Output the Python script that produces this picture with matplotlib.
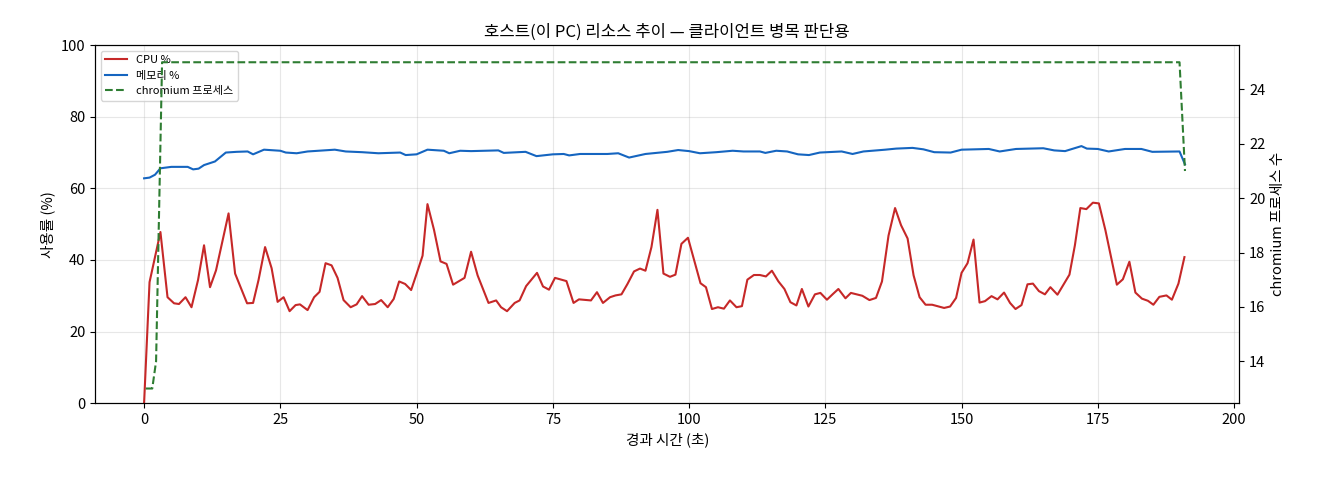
import matplotlib
matplotlib.use("Agg")
import matplotlib.pyplot as plt

plt.rcParams['font.family'] = ['Noto Sans CJK KR', 'DejaVu Sans']

cpu_t = [0, 1.0, 3.0, 4.3, 5.5, 6.4, 7.6, 8.7, 9.9, 11.0, 12.1, 13.2, 15.5, 16.7, 18.9, 20, 21, 22.2,
         23.4, 24.5, 25.6, 26.7, 27.8, 28.6, 30, 31.2, 32.2, 33.3, 34.4, 35.5, 36.6, 37.9, 39, 40,
         41.2, 42.4, 43.5, 44.7, 45.8, 46.8, 47.9, 49, 50, 51.1, 52, 53.2, 54.4, 55.5, 56.7, 58.8,
         60, 61.2, 63.2, 64.6, 65.5, 66.6, 68, 68.9, 70.1, 72.1, 73.2, 74.3, 75.4, 77.5, 78.8, 79.8,
         82, 83.1, 84.2, 85.5, 86.5, 87.6, 88.7, 89.9, 91, 92, 93.1, 94.2, 95.3, 96.5, 97.5, 98.6,
         99.8, 102.1, 103.1, 104.2, 105.3, 106.4, 107.5, 108.7, 109.7, 110.7, 111.9, 113, 114.1,
         115.2, 116.4, 117.5, 118.6, 119.7, 120.7, 121.9, 123.1, 124.1, 125.3, 126.4, 127.4, 128.7,
         129.7, 131.8, 133.1, 134.3, 135.4, 136.6, 137.8, 138.9, 140.1, 141.2, 142.3, 143.4, 144.6,
         145.6, 146.8, 147.9, 149, 150, 151.1, 152.2, 153.3, 154.3, 155.5, 156.6, 157.8, 158.9,
         159.9, 161, 162.1, 163.1, 164.2, 165.3, 166.3, 167.6, 168.7, 169.8, 170.8, 171.8, 172.9,
         174.1, 175.2, 176.4, 177.4, 178.5, 179.6, 180.8, 181.9, 183.1, 184.2, 185.2, 186.3, 187.6,
         188.6, 189.8, 190.9]
cpu = [0, 33.8, 47.8, 29.6, 27.9, 27.7, 29.6, 26.8, 34.4, 44.1, 32.4, 37.1, 53, 36.2, 27.9, 28, 34.4, 43.6,
       37.7, 28.3, 29.6, 25.7, 27.4, 27.6, 26, 29.6, 31.1, 39.1, 38.5, 35, 28.8, 26.8, 27.6, 29.9,
       27.5, 27.7, 28.8, 26.8, 29.1, 34, 33.3, 31.6, 36.1, 41.2, 55.6, 48.4, 39.6, 38.9, 33.1, 35,
       42.3, 35.7, 28, 28.7, 26.8, 25.7, 28, 28.7, 32.7, 36.4, 32.6, 31.7, 35, 34.1, 28, 29,
       28.7, 31, 28, 29.6, 30.1, 30.4, 33.3, 36.8, 37.6, 37, 43.6, 54, 36.2, 35.3, 35.9, 44.5,
       46.2, 33.5, 32.4, 26.3, 26.8, 26.4, 28.7, 26.8, 27.1, 34.5, 35.8, 35.8, 35.4,
       37, 34, 31.9, 28.2, 27.3, 31.9, 27, 30.4, 30.8, 28.9, 30.5, 31.9, 29.3,
       30.8, 30, 28.8, 29.4, 34, 46.8, 54.5, 49.7, 46, 35.7, 29.6, 27.5, 27.5,
       27.1, 26.6, 27, 29.4, 36.4, 39.1, 45.7, 28.1, 28.5, 29.9, 29, 30.9, 28,
       26.3, 27.4, 33.2, 33.4, 31.3, 30.4, 32.4, 30.3, 33.1, 35.9, 44.1, 54.5, 54.2,
       56, 55.8, 48.3, 41.1, 33.1, 34.6, 39.5, 30.9, 29.2, 28.6, 27.5, 29.7, 30.1,
       28.9, 33.4, 40.8]

mem_t = [0, 1, 2, 3, 5, 8, 9, 10, 11, 13, 15, 17, 19, 20, 22, 25, 26, 28, 30, 35, 37, 40, 43, 47, 48,
         50, 52, 55, 56, 58, 60, 65, 66, 70, 72, 75, 77, 78, 80, 85, 87, 89, 92, 96, 98, 100, 102,
         105, 108, 110, 113, 114, 116, 118, 120, 122, 124, 128, 130, 132, 136, 138, 141, 143, 145,
         148, 150, 155, 157, 160, 165, 167, 169, 172, 173, 175, 177, 180, 183, 185, 190, 191]
mem = [62.8, 63, 63.8, 65.6, 66, 66, 65.3, 65.5, 66.5, 67.5, 70, 70.2, 70.3, 69.5, 70.8, 70.5, 70, 69.8,
       70.3, 70.8, 70.3, 70.1, 69.8, 70, 69.3, 69.5, 70.8, 70.5, 69.8, 70.5, 70.4, 70.6, 69.9, 70.2,
       69, 69.5, 69.6, 69.2, 69.6, 69.6, 69.8, 68.6, 69.6, 70.2, 70.7, 70.4, 69.8, 70.1, 70.5, 70.3,
       70.3, 69.9, 70.5, 70.3, 69.5, 69.3, 70, 70.3, 69.6, 70.3, 70.8, 71.1, 71.3, 70.9, 70.1, 70,
       70.8, 71, 70.3, 71, 71.2, 70.6, 70.4, 71.8, 71.1, 71, 70.3, 71, 71, 70.2, 70.3, 66.7]

proc_t = [0.3, 1.5, 2.2, 3.3, 190, 191]
procs = [13, 13, 14, 25, 25, 21]

fig, ax = plt.subplots(figsize=(13.2, 4.8), dpi=100)
ax.plot(cpu_t, cpu, color="#c62828", lw=1.5, label="CPU %")
ax.plot(mem_t, mem, color="#1565c0", lw=1.5, label="메모리 %")
ax.set_ylim(0, 100)
ax.set_xlim(-9, 201)
ax.set_xlabel("경과 시간 (초)", fontsize=10.5)
ax.set_ylabel("사용률 (%)", fontsize=10.5)
ax.tick_params(labelsize=10.5)
ax.grid(alpha=0.3)

ax2 = ax.twinx()
ax2.plot(proc_t, procs, color="#2e7d32", lw=1.5, ls="--", label="chromium 프로세스")
ax2.set_ylim(12.46, 25.63)
ax2.set_ylabel("chromium 프로세스 수", fontsize=10.5)
ax2.tick_params(labelsize=10.5)

h1, l1 = ax.get_legend_handles_labels()
h2, l2 = ax2.get_legend_handles_labels()
ax.legend(h1 + h2, l1 + l2, loc="upper left", fontsize=8)
ax.set_title("호스트(이 PC) 리소스 추이 — 클라이언트 병목 판단용", fontsize=12)

fig.subplots_adjust(left=0.072, right=0.939, top=0.906, bottom=0.16)
fig.savefig("out.png")
